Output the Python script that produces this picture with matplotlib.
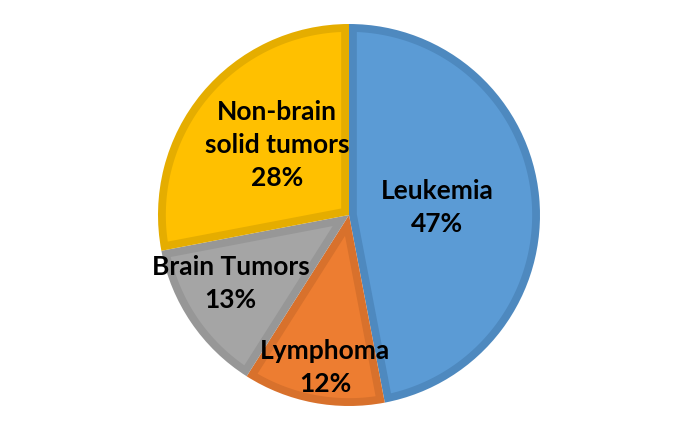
import matplotlib
matplotlib.use("Agg")
import numpy as np
import matplotlib.pyplot as plt
from matplotlib.patches import Polygon

categories = ["Leukemia", "Lymphoma", "Brain Tumors", "Non-brain\nsolid tumors"]
values = [47, 12, 13, 28]
fill_colors = ["#5B9BD5", "#ED7D31", "#A5A5A5", "#FFC000"]
edge_colors = ["#4E89BF", "#D8712C", "#979797", "#E5AD00"]
label_pos = [(0.46, 0.04), (-0.126, -0.80), (-0.62, -0.36), (-0.377, 0.366)]

W, H = 697, 429
fig = plt.figure(figsize=(W / 100, H / 100), dpi=100)
cx, cy, r = 349, 215, 191
ax = fig.add_axes([(cx - r) / W, (H - cy - r) / H, 2 * r / W, 2 * r / H])

wedges, _ = ax.pie(values, colors=edge_colors, startangle=90, counterclock=False,
                   radius=1, center=(0, 0), wedgeprops=dict(linewidth=0))
ax.set_xlim(-1, 1)
ax.set_ylim(-1, 1)
ax.set_aspect("equal")
ax.axis("off")

d = 0.041  # border width (axes units)
for w, fc in zip(wedges, fill_colors):
    t1, t2 = np.deg2rad(w.theta1), np.deg2rad(w.theta2)
    alpha = (t2 - t1) / 2
    rho = w.r - d
    delta = np.arcsin(d / rho)
    mid = (t1 + t2) / 2
    apex = (d / np.sin(alpha)) * np.array([np.cos(mid), np.sin(mid)])
    ang = np.linspace(t1 + delta, t2 - delta, 200)
    arc = np.column_stack([rho * np.cos(ang), rho * np.sin(ang)])
    pts = np.vstack([apex, arc])
    ax.add_patch(Polygon(pts, closed=True, facecolor=fc, edgecolor="none",
                         linewidth=0))

for cat, v, (x, y) in zip(categories, values, label_pos):
    ax.text(x, y, f"{cat}\n{v}%", ha="center", va="center", fontsize=19,
            fontweight="bold", family=["Lato", "DejaVu Sans"], linespacing=1.45,
            color="black")

fig.savefig("out.png", dpi=100)
